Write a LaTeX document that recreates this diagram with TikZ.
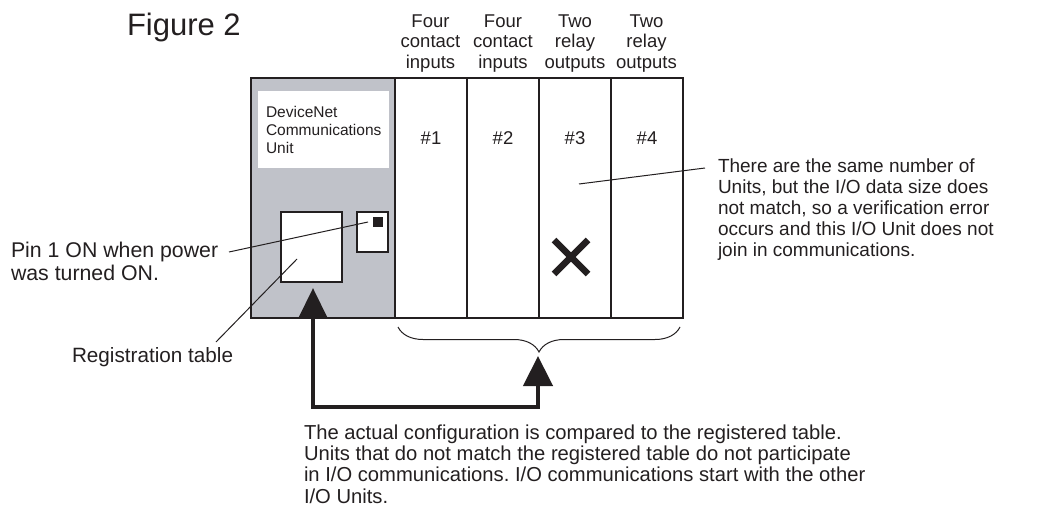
\documentclass[tikz,border=0pt]{standalone}
\usepackage{fontspec}
\setmainfont{Liberation Sans}
\usetikzlibrary{arrows.meta,decorations.pathreplacing}
\definecolor{unitgray}{RGB}{192,194,201}
\definecolor{ink}{RGB}{35,31,32}
\frenchspacing
\begin{document}
\begin{tikzpicture}[x=1pt,y=-1pt,
  every node/.style={inner sep=0pt, outer sep=0pt, text=ink},
  txt/.style={align=left, anchor=base west},
  hdr/.style={font=\fontsize{18.5}{20.5}\selectfont, align=center, anchor=base},
  num/.style={font=\fontsize{18.5}{21.5}\selectfont, anchor=base},
  frame/.style={draw=ink, line width=1.2pt, anchor=north west},
  leader/.style={draw=ink, line width=1pt},
  bigarrow/.style={draw=ink, line width=4.5pt, line join=miter,
    {Triangle[length=30pt,width=28pt]}-{Triangle[length=30pt,width=29pt]}}
]
\useasboundingbox (0,0) rectangle (1041,522);

% title
\node[anchor=base west, font=\fontsize{31}{36}\selectfont] (title) at (127,35) {Figure 2};

% headers (anchor = baseline of last line)
\node[hdr] (h1) at (430.5,68) {Four\\contact\\inputs};
\node[hdr] (h2) at (503,68) {Four\\contact\\inputs};
\node[hdr] (h3) at (575,68) {Two\\relay\\outputs};
\node[hdr] (h4) at (646.5,68) {Two\\relay\\outputs};

% communications unit
\node[frame, fill=unitgray, minimum width=144pt, minimum height=240pt] (cpu) at (251,78) {};
\node[fill=white, minimum width=131pt, minimum height=77pt, anchor=north west] (lbl) at (258,91) {};
\node[anchor=base west, align=left, font=\fontsize{15.5}{18}\selectfont] (lbltxt) at (266,153) {DeviceNet\\Communications\\Unit};

% I/O units
\node[frame, fill=white, minimum width=72pt, minimum height=240pt] (u1) at (395,78) {};
\node[frame, fill=white, minimum width=72pt, minimum height=240pt] (u2) at (467,78) {};
\node[frame, fill=white, minimum width=72pt, minimum height=240pt] (u3) at (539,78) {};
\node[frame, fill=white, minimum width=72pt, minimum height=240pt] (u4) at (611,78) {};
\node[num] (n1) at (431,144) {\#1};
\node[num] (n2) at (503,144) {\#2};
\node[num] (n3) at (575,144) {\#3};
\node[num] (n4) at (647,144) {\#4};

% registration table and switch
\node[frame, fill=white, minimum width=61pt, minimum height=70pt] (reg) at (281,212) {};
\node[frame, fill=white, minimum width=31pt, minimum height=40pt] (sw) at (357,212) {};
\node[fill=ink, minimum size=10pt, anchor=north west] (pin) at (373,217) {};

% X mark
\draw[ink, line width=6.5pt] (554,240) -- (588,274) (554,274) -- (588,240);

% left labels
\node[txt, font=\fontsize{21.3}{22.5}\selectfont] (pintxt) at (11,280) {Pin 1 ON when power\\was turned ON.};
\coordinate (pinA) at (229,252);
\coordinate (pinB) at (368,222);
\draw[leader] (pinA) -- (pinB);

\node[txt, font=\fontsize{20.7}{23}\selectfont] (regtxt) at (72,362) {Registration table};
\coordinate (regA) at (216,342);
\coordinate (regB) at (297,259);
\draw[leader] (regA) -- (regB);

% right label
\node[txt, font=\fontsize{19}{20.8}\selectfont] (errtxt) at (718,256) {There are the same number of\\Units, but the I/O data size does\\not match, so a verification error\\occurs and this I/O Unit does not\\join in communications.};
\coordinate (errA) at (705,168);
\coordinate (errB) at (579,184);
\draw[leader] (errA) -- (errB);

% brace
\coordinate (brL) at (398,327);
\coordinate (brR) at (680,327);
\draw[ink, line width=1pt, decorate, decoration={brace, mirror, amplitude=25pt}] (brL) -- (brR);

% big connector
\coordinate (tipL) at (313,288);
\coordinate (tipR) at (538,356);
\draw[bigarrow] (tipL) -- (313,407) -- (538,407) -- (tipR);

% bottom text
\node[txt, font=\fontsize{20.2}{21.3}\selectfont] (bottxt) at (304,503) {The actual configuration is compared to the registered table.\\Units that do not match the registered table do not participate\\in I/O communications. I/O communications start with the other\\I/O Units.};
\end{tikzpicture}
\end{document}
